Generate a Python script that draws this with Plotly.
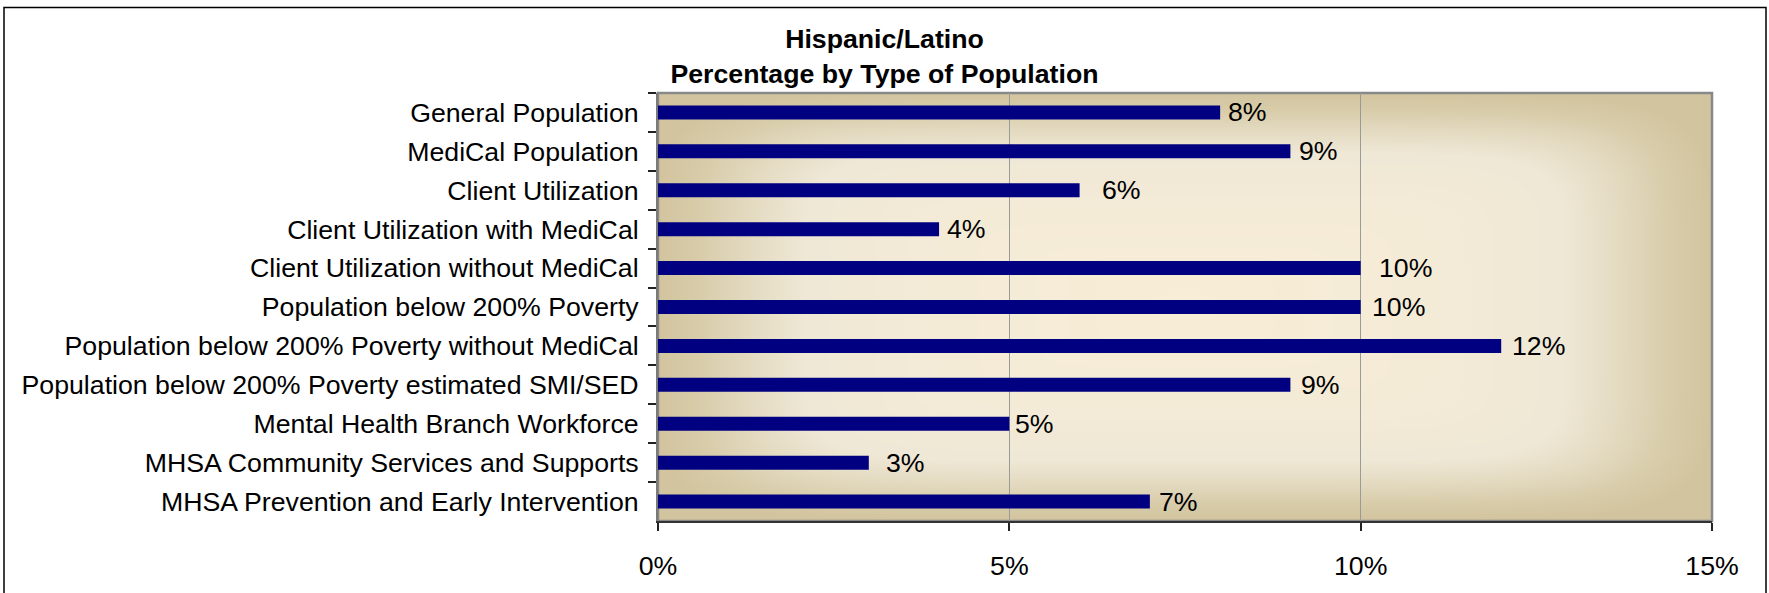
import base64
import struct
import zlib

import numpy as np
import plotly.graph_objects as go

# ---- data -------------------------------------------------------------
categories = [
    "General Population",
    "MediCal Population",
    "Client Utilization",
    "Client Utilization with MediCal",
    "Client Utilization without MediCal",
    "Population below 200% Poverty",
    "Population below 200% Poverty without MediCal",
    "Population below 200% Poverty estimated SMI/SED",
    "Mental Health Branch Workforce",
    "MHSA Community Services and Supports",
    "MHSA Prevention and Early Intervention",
]
percent = [8, 9, 6, 4, 10, 10, 12, 9, 5, 3, 7]
x_ticks = [0, 5, 10, 15]
x_tick_labels = ["0%", "5%", "10%", "15%"]

# horizontal gap (px) between each bar end and its value label
label_gap = [8, 9, 22, 8, 18, 11, 11, 11, 6, 17, 9]

# ---- layout geometry ----------------------------------------------------
FIG_W, FIG_H = 1769, 593
M_L, M_R, M_T, M_B = 658, 57, 93, 69
PW, PH = FIG_W - M_L - M_R, FIG_H - M_T - M_B

FONT = "Arial, 'Liberation Sans', sans-serif"
FS = 26.7
NAVY = "#000080"


def png_data_uri(rgb):
    """Encode an (h, w, 3) uint8 array as a PNG data URI."""
    h, w, _ = rgb.shape
    raw = b"".join(b"\x00" + rgb[r].tobytes() for r in range(h))

    def chunk(tag, data):
        c = struct.pack(">I", len(data)) + tag + data
        return c + struct.pack(">I", zlib.crc32(tag + data) & 0xFFFFFFFF)

    png = (b"\x89PNG\r\n\x1a\n"
           + chunk(b"IHDR", struct.pack(">IIBBBBB", w, h, 8, 2, 0, 0, 0))
           + chunk(b"IDAT", zlib.compress(raw, 9))
           + chunk(b"IEND", b""))
    return "data:image/png;base64," + base64.b64encode(png).decode()


def centre_gradient(w, h, p=7.0):
    """Soft rectangular gradient: tan at the edges, pale cream in the middle."""
    xs = np.abs(np.linspace(-1, 1, w))
    ys = np.abs(np.linspace(-1, 1, h))
    d = (xs[None, :] ** p + ys[:, None] ** p) ** (1.0 / p)
    d = np.clip(d, 0, 1)
    # stops as (distance from centre, colour)
    pos = np.array([0.0, 0.45, 0.72, 0.82, 0.92, 1.0])
    cols = np.array([
        [248, 237, 214],
        [244, 235, 215],
        [239, 232, 214],
        [228, 219, 194],
        [216, 204, 170],
        [210, 196, 158],
    ], dtype=float)
    out = np.empty((h, w, 3))
    for k in range(3):
        out[..., k] = np.interp(d, pos, cols[:, k])
    return out.round().astype(np.uint8)


fig = go.Figure()

fig.add_trace(go.Bar(
    x=percent,
    y=categories,
    orientation="h",
    marker=dict(color=NAVY, line=dict(width=0)),
    hoverinfo="skip",
))

# value labels next to each bar
for cat, val, gap in zip(categories, percent, label_gap):
    fig.add_annotation(
        x=val, y=cat, xref="x", yref="y",
        text=f"{val}%", showarrow=False,
        xanchor="left", yanchor="middle", xshift=gap,
        borderpad=0, borderwidth=0,
        font=dict(family=FONT, size=FS, color="black"),
    )

# background gradient inside the plot area
fig.add_layout_image(
    source=png_data_uri(centre_gradient(PW, PH)),
    xref="paper", yref="paper", x=0, y=1, sizex=1, sizey=1,
    xanchor="left", yanchor="top", sizing="stretch", layer="below",
)

# grey plot border (top/right), axis lines are drawn over it
fig.add_shape(type="rect", xref="paper", yref="paper", x0=0, y0=0, x1=1, y1=1,
              line=dict(color="#888888", width=2.5), layer="below")


def px_to_paper_x(px):
    return (px - M_L) / PW


def px_to_paper_y(py):
    return (FIG_H - M_B - py) / PH


# outer chart frame
fig.add_shape(type="rect", xref="paper", yref="paper",
              x0=px_to_paper_x(4), x1=px_to_paper_x(1766),
              y0=px_to_paper_y(605), y1=px_to_paper_y(7),
              line=dict(color="black", width=1.5), layer="above")

fig.update_layout(
    width=FIG_W, height=FIG_H,
    margin=dict(l=M_L, r=M_R, t=M_T, b=M_B, pad=0),
    paper_bgcolor="white",
    plot_bgcolor="rgba(0,0,0,0)",
    bargap=0.64,
    showlegend=False,
    font=dict(family=FONT, size=FS, color="black"),
    title=dict(
        text="<b>Hispanic/Latino<br>Percentage by Type of Population</b>",
        x=0.5, xref="container", xanchor="center",
        y=1 - 48 / FIG_H, yref="container", yanchor="top",
        font=dict(family=FONT, size=FS, color="black"),
    ),
    xaxis=dict(
        range=[0, 15],
        tickvals=x_ticks, ticktext=x_tick_labels,
        ticks="outside", ticklen=8, tickcolor="#222222", tickwidth=1.5,
        showgrid=True, gridcolor="#9a9a9a", gridwidth=1,
        zeroline=False,
        showline=True, linecolor="#333333", linewidth=2,
        tickfont=dict(family=FONT, size=FS, color="black"),
        ticklabelstandoff=12,
        fixedrange=True,
    ),
    yaxis=dict(
        autorange="reversed",
        type="category",
        ticks="outside", ticklen=8, tickcolor="#222222", tickwidth=1.5,
        tickson="boundaries",
        showgrid=False, zeroline=False,
        showline=True, linecolor="#7a7a7a", linewidth=2,
        tickfont=dict(family=FONT, size=FS, color="black"),
        ticklabelstandoff=12,
        fixedrange=True,
    ),
)

fig.write_html("out.html")
